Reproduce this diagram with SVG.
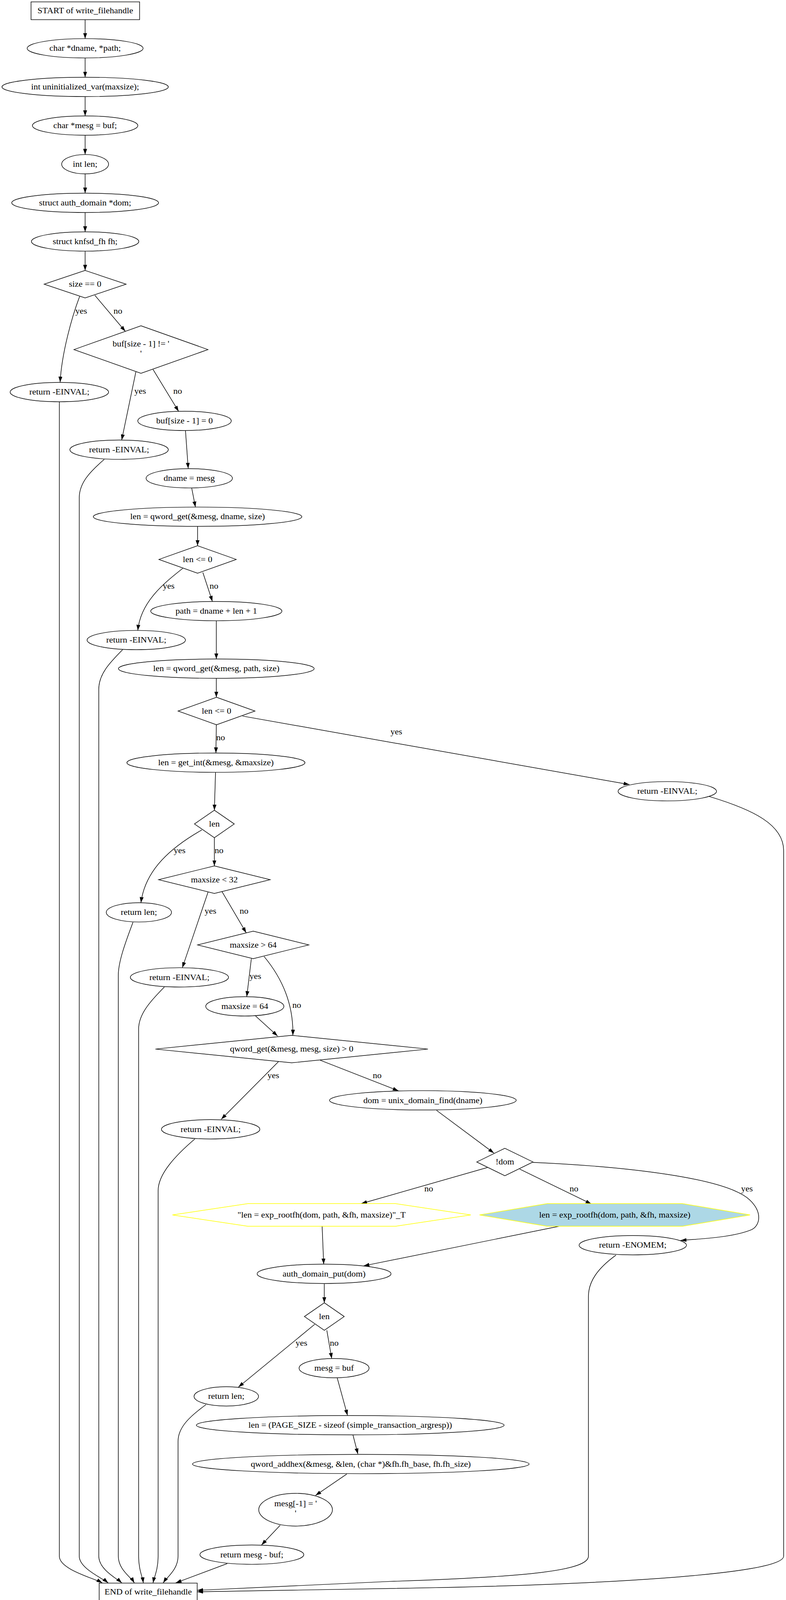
<svg xmlns="http://www.w3.org/2000/svg" width="2013" height="4317" viewBox="0 0 2013 4317">
<defs>
<marker id="ah" markerUnits="userSpaceOnUse" markerWidth="15" markerHeight="10" refX="15" refY="5" orient="auto"><path d="M0,0 L15,5 L0,10 z" fill="#000"/></marker>
<style>
.s{fill:none;stroke:#000;stroke-width:1.5}
.e{fill:none;stroke:#000;stroke-width:1.5;marker-end:url(#ah)}
.hy{fill:none;stroke:#ffff00;stroke-width:1.5}
.hb{fill:#add8e6;stroke:#ffff00;stroke-width:1.5}
text{font-family:"Liberation Serif","Times New Roman",serif;font-size:22.5px;fill:#000;text-anchor:middle}
</style>
</defs>
<rect width="2013" height="4317" fill="#fff"/>
<g id="diagram" transform="matrix(1 0 0 0.951 0 0)">
<g id="connectors">
<path class="e" d="M218,53 L218,104"/>
<path class="e" d="M218,156 L218,208"/>
<path class="e" d="M218,260 L218,312"/>
<path class="e" d="M218,364 L218,416"/>
<path class="e" d="M218,468 L218,520"/>
<path class="e" d="M218,572 L218,624"/>
<path class="e" d="M218,676 L218,728"/>
<path class="e" d="M204,798 C185,850 158,950 154,1029"/>
<path class="e" d="M243,795 L321,892"/>
<path class="e" d="M348,1001 L311.7,1184.5"/>
<path class="e" d="M392,994.6 L457.5,1107.5"/>
<path class="e" d="M475,1159 L482,1261"/>
<path class="e" d="M491,1314 L500.5,1365"/>
<path class="e" d="M506,1417 L506,1469"/>
<path class="e" d="M468,1530 C420,1570 360,1620 353,1697"/>
<path class="e" d="M519.5,1541 L544,1619"/>
<path class="e" d="M554,1671 L554,1774"/>
<path class="e" d="M554,1826 L554,1877"/>
<path class="e" d="M554,1951 L553,2027"/>
<path class="e" d="M621,1927.6 L1612,2112"/>
<path class="e" d="M552,2079 L549,2181"/>
<path class="e" d="M517,2234 C440,2280 372,2340 361,2430"/>
<path class="e" d="M549,2255.5 L549,2331"/>
<path class="e" d="M533,2401 L467,2605"/>
<path class="e" d="M568.5,2400 L630.5,2511"/>
<path class="e" d="M643.7,2580.7 L632,2683"/>
<path class="e" d="M676.5,2575 C720,2630 752,2700 750,2787"/>
<path class="e" d="M654.6,2735 L711,2789"/>
<path class="e" d="M713,2858 L566.6,3013"/>
<path class="e" d="M820,2854 L1020.7,2936.5"/>
<path class="e" d="M1118,2989 L1265,3104"/>
<path class="e" d="M1248.5,3142.8 L925,3240"/>
<path class="e" d="M1331,3147 L1514.6,3241"/>
<path class="e" d="M1365,3129 C1600,3140 1860,3170 1920,3230 C1955,3265 1945,3300 1925,3310 C1880,3330 1800,3335 1743,3339"/>
<path class="e" d="M825,3301 L829,3403"/>
<path class="e" d="M1432,3301 L931,3407.6"/>
<path class="e" d="M830.5,3456 L830.5,3507"/>
<path class="e" d="M806,3565 L610.5,3734"/>
<path class="e" d="M837,3581 L849.6,3657"/>
<path class="e" d="M863.7,3709.5 L890,3810"/>
<path class="e" d="M904,3863 L916.6,3914"/>
<path class="e" d="M888,3968 L808,4025.6"/>
<path class="e" d="M717.5,4106 L669.7,4159"/>
<path class="e" d="M582,4209 L450,4261"/>
<path class="e" d="M152,1081.5 L152,4189 C152,4225 240,4248 262,4261"/>
<path class="e" d="M267,1236.6 C230,1270 203,1300 203,1340 L203,4189 C203,4222 262,4248 277,4261"/>
<path class="e" d="M314,1749 C280,1785 253,1815 253,1855 L253,4189 C253,4225 300,4250 312,4261"/>
<path class="e" d="M340.6,2482.6 C320,2540 303,2590 303,2625 L303,4189 C303,4225 335,4245 344,4261"/>
<path class="e" d="M421,2657 C385,2695 355,2730 355,2770 L355,4189 C355,4225 365,4245 367,4261"/>
<path class="e" d="M499,3066 C450,3110 405,3160 405,3205 L405,4189 C405,4225 395,4245 392,4261"/>
<path class="e" d="M527.6,3781 C490,3810 456,3840 456,3880 L456,4189 C456,4225 428,4245 418,4261"/>
<path class="e" d="M1816,2144 C1930,2180 2007,2220 2007,2290 L2007,4189 C2007,4240 1500,4268 1000,4276 L505,4285"/>
<path class="e" d="M1577.5,3378.7 C1530,3415 1507,3450 1507,3490 L1507,4189 C1507,4228 1350,4245 1000,4257 L505,4281"/>
</g>
<g id="edge-labels">
<text x="208" y="844">yes</text>
<text x="302" y="844">no</text>
<text x="359" y="1060">yes</text>
<text x="455" y="1060">no</text>
<text x="432" y="1585">yes</text>
<text x="548" y="1585">no</text>
<text x="565" y="1993">no</text>
<text x="1015" y="1977">yes</text>
<text x="460" y="2297">yes</text>
<text x="561" y="2297">no</text>
<text x="539" y="2460">yes</text>
<text x="625" y="2460">no</text>
<text x="654" y="2635">yes</text>
<text x="760" y="2713">no</text>
<text x="700" y="2902">yes</text>
<text x="966" y="2902">no</text>
<text x="1098" y="3207">no</text>
<text x="1470" y="3207">no</text>
<text x="1913" y="3207">yes</text>
<text x="772" y="3622">yes</text>
<text x="856" y="3622">no</text>
</g>
<g id="n1"><rect class="s" x="79.5" y="5" width="278" height="48"/><text x="218.5" y="36">START of write_filehandle</text></g>
<g id="n2"><ellipse class="s" cx="218" cy="130" rx="148.5" ry="26"/><text x="218" y="137">char *dname, *path;</text></g>
<g id="n3"><ellipse class="s" cx="218" cy="234" rx="213" ry="26"/><text x="218" y="241">int uninitialized_var(maxsize);</text></g>
<g id="n4"><ellipse class="s" cx="218" cy="338" rx="135" ry="26"/><text x="218" y="345">char *mesg = buf;</text></g>
<g id="n5"><ellipse class="s" cx="218" cy="442" rx="60" ry="26"/><text x="218" y="449">int len;</text></g>
<g id="n6"><ellipse class="s" cx="218" cy="546" rx="188" ry="26"/><text x="218" y="553">struct auth_domain *dom;</text></g>
<g id="n7"><ellipse class="s" cx="218" cy="650" rx="137.5" ry="26"/><text x="218" y="657">struct knfsd_fh fh;</text></g>
<g id="n8"><polygon class="s" points="218,728 323,765 218,802 113,765"/><text x="218" y="772">size == 0</text></g>
<g id="n9"><polygon class="s" points="361,877 532.6,941 361,1005 189.4,941"/><text x="361" y="933">buf[size - 1] != '</text><text x="361" y="959">'</text></g>
<g id="n10"><ellipse class="s" cx="152" cy="1055.5" rx="126" ry="26"/><text x="152" y="1062.5">return -EINVAL;</text></g>
<g id="n11"><ellipse class="s" cx="472.6" cy="1133" rx="119.7" ry="26"/><text x="472.6" y="1140">buf[size - 1] = 0</text></g>
<g id="n12"><ellipse class="s" cx="305" cy="1210.5" rx="126" ry="26"/><text x="305" y="1217.5">return -EINVAL;</text></g>
<g id="n13"><ellipse class="s" cx="484.7" cy="1287.5" rx="110.5" ry="26"/><text x="484.7" y="1294.5">dname = mesg</text></g>
<g id="n14"><ellipse class="s" cx="506" cy="1391" rx="267" ry="26"/><text x="506" y="1398">len = qword_get(&amp;mesg, dname, size)</text></g>
<g id="n15"><polygon class="s" points="506,1469 605,1506 506,1543 407,1506"/><text x="506" y="1513">len &lt;= 0</text></g>
<g id="n16"><ellipse class="s" cx="554" cy="1645" rx="168" ry="26"/><text x="554" y="1652">path = dname + len + 1</text></g>
<g id="n17"><ellipse class="s" cx="349" cy="1723" rx="126" ry="26"/><text x="349" y="1730">return -EINVAL;</text></g>
<g id="n18"><ellipse class="s" cx="554" cy="1800" rx="250.6" ry="26"/><text x="554" y="1807">len = qword_get(&amp;mesg, path, size)</text></g>
<g id="n19"><polygon class="s" points="554.5,1877 653,1914 554.5,1951 456,1914"/><text x="554.5" y="1921">len &lt;= 0</text></g>
<g id="n20"><ellipse class="s" cx="553" cy="2053" rx="228" ry="26"/><text x="553" y="2060">len = get_int(&amp;mesg, &amp;maxsize)</text></g>
<g id="n21"><ellipse class="s" cx="1709" cy="2130" rx="126" ry="26"/><text x="1709" y="2137">return -EINVAL;</text></g>
<g id="n22"><polygon class="s" points="549,2181 600,2218 549,2255 498,2218"/><text x="549" y="2225">len</text></g>
<g id="n23"><polygon class="s" points="549,2331 692,2368 549,2405 406,2368"/><text x="549" y="2375">maxsize &lt; 32</text></g>
<g id="n24"><ellipse class="s" cx="355.7" cy="2456" rx="83.5" ry="26"/><text x="355.7" y="2463">return len;</text></g>
<g id="n25"><polygon class="s" points="648.5,2506.6 791,2543.6 648.5,2580.6 506,2543.6"/><text x="648.5" y="2550.6">maxsize &gt; 64</text></g>
<g id="n26"><ellipse class="s" cx="459.5" cy="2631" rx="125.7" ry="26"/><text x="459.5" y="2638">return -EINVAL;</text></g>
<g id="n27"><ellipse class="s" cx="627" cy="2709" rx="100" ry="26"/><text x="627" y="2716">maxsize = 64</text></g>
<g id="n28"><polygon class="s" points="747,2787 1096,2824 747,2861 398,2824"/><text x="747" y="2831">qword_get(&amp;mesg, mesg, size) &gt; 0</text></g>
<g id="n29"><ellipse class="s" cx="539.5" cy="3040" rx="126" ry="26"/><text x="539.5" y="3047">return -EINVAL;</text></g>
<g id="n30"><ellipse class="s" cx="1083" cy="2962" rx="239" ry="26"/><text x="1083" y="2969">dom = unix_domain_find(dname)</text></g>
<g id="n31"><polygon class="s" points="1293,3091 1365,3128 1293,3165 1221,3128"/><text x="1293" y="3135">!dom</text></g>
<g id="n32"><polygon class="hy" points="441.6,3270.5 635,3240 1013,3240 1205.7,3270.5 1013,3301 635,3301"/><text x="823.6" y="3277.5">"len = exp_rootfh(dom, path, &amp;fh, maxsize)"_T</text></g>
<g id="n33"><polygon class="hb" points="1228,3270.5 1401.6,3240 1747.5,3240 1921,3270.5 1747.5,3301 1401.6,3301"/><text x="1574.5" y="3277.5">len = exp_rootfh(dom, path, &amp;fh, maxsize)</text></g>
<g id="n34"><ellipse class="s" cx="1620.6" cy="3352" rx="137.5" ry="26"/><text x="1620.6" y="3359">return -ENOMEM;</text></g>
<g id="n35"><ellipse class="s" cx="830" cy="3429" rx="171.5" ry="26"/><text x="830" y="3436">auth_domain_put(dom)</text></g>
<g id="n36"><polygon class="s" points="830.6,3507 881.6,3544 830.6,3581 779.6,3544"/><text x="830.6" y="3551">len</text></g>
<g id="n37"><ellipse class="s" cx="855.6" cy="3683" rx="89.6" ry="26"/><text x="855.6" y="3690">mesg = buf</text></g>
<g id="n38"><ellipse class="s" cx="579.5" cy="3759" rx="82.6" ry="26"/><text x="579.5" y="3766">return len;</text></g>
<g id="n39"><ellipse class="s" cx="897" cy="3836.5" rx="394" ry="26"/><text x="897" y="3843.5">len = (PAGE_SIZE - sizeof (simple_transaction_argresp))</text></g>
<g id="n40"><ellipse class="s" cx="924" cy="3941" rx="431" ry="26"/><text x="924" y="3948">qword_addhex(&amp;mesg, &amp;len, (char *)&amp;fh.fh_base, fh.fh_size)</text></g>
<g id="n41"><ellipse class="s" cx="757" cy="4064" rx="94.4" ry="44"/><text x="757" y="4055">mesg[-1] = '</text><text x="757" y="4081">'</text></g>
<g id="n42"><ellipse class="s" cx="645" cy="4185" rx="133" ry="26"/><text x="645" y="4192">return mesg - buf;</text></g>
<g id="n43"><rect class="s" x="254" y="4261.5" width="251" height="48"/><text x="379.5" y="4292.5">END of write_filehandle</text></g>
</g>
</svg>
